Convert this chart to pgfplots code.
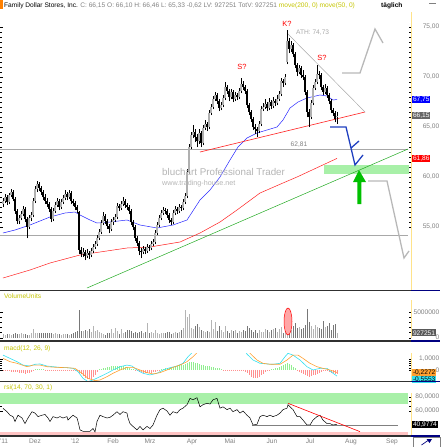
\documentclass[border=0pt]{standalone}
\usepackage{pgfplots}
\pgfplotsset{compat=1.18}
\usepackage{pgfplotstable}
\usepackage{fontspec}
\setmainfont{Liberation Sans}
\definecolor{olivey}{HTML}{C4C400}
\definecolor{lgray}{HTML}{A8A8A8}
\definecolor{tgray}{HTML}{808080}
\definecolor{ma50}{HTML}{2828FF}
\definecolor{ma200}{HTML}{FF2020}
\definecolor{tgreen}{HTML}{22AA22}
\definecolor{zoneg}{HTML}{A8F0A8}
\definecolor{zoner}{HTML}{FFC4C4}
\definecolor{axy}{HTML}{FFE38A}
\definecolor{sepc}{HTML}{303030}
\definecolor{navyc}{HTML}{000080}
\definecolor{projb}{HTML}{2040C0}
\definecolor{projg}{HTML}{B8B8B8}
\definecolor{macdc}{HTML}{33E0F0}
\definecolor{sigc}{HTML}{FFA030}
\definecolor{histr}{HTML}{FF9090}
\definecolor{histg}{HTML}{90F090}
\definecolor{volc}{HTML}{B4B4B4}
\definecolor{vold}{HTML}{787878}
\definecolor{upc}{HTML}{B0B0B0}
\definecolor{arrowg}{HTML}{00C000}
\definecolor{wmark}{HTML}{B4B4B4}
\newcommand\fs{\fontsize{6.6}{7.5}\selectfont}

\pgfplotstableread{
x o h l c v m
3 57.3 57.9 57.0 57.6 0.7 -0.05
5 57.6 58.3 57.4 58.0 0.6 -0.08
7 58.0 58.2 57.2 57.5 0.7 -0.10
9 57.5 58.4 57.3 58.2 0.7 -0.13
11 58.2 58.8 58.0 58.5 0.6 -0.15
13 58.5 58.7 57.6 57.8 0.8 -0.18
15 57.8 58.0 56.3 56.6 0.9 -0.20
17 56.6 56.8 55.3 55.6 0.8 -0.22
19 55.6 56.2 55.3 55.9 0.7 -0.25
21 55.9 56.6 55.7 56.3 1.0 -0.28
23 56.3 57.1 56.1 56.8 0.8 -0.30
25 56.8 57.0 55.5 55.8 0.7 -0.33
27 55.8 56.0 53.9 55.0 0.6 -0.30
29 55.0 56.2 54.8 55.9 0.6 -0.26
31 55.9 56.5 55.6 56.2 1.0 -0.20
33 56.2 57.9 56.0 57.6 1.6 -0.10
35 57.6 59.1 57.4 58.8 1.0 0.05
37 58.8 59.6 58.5 59.3 0.9 0.08
39 59.3 59.5 58.6 58.9 0.9 0.10
41 58.9 59.1 58.2 58.5 1.0 0.08
43 58.5 58.7 57.7 58.0 0.9 0.05
45 58.0 58.3 57.3 57.6 1.0 -0.03
47 57.6 57.9 57.0 57.3 0.9 -0.06
49 57.3 57.5 56.5 56.8 0.9 -0.08
51 56.8 57.0 55.5 55.8 1.0 -0.10
53 55.8 56.9 55.6 56.6 0.8 -0.12
55 56.6 57.5 56.4 57.2 1.0 -0.12
57 57.2 57.9 57.0 57.6 0.7 -0.10
59 57.6 57.8 56.7 57.0 0.7 -0.08
61 57.0 57.8 56.8 57.5 0.6 -0.10
63 57.5 58.2 57.3 57.9 0.8 -0.12
65 57.9 58.7 57.7 58.3 0.7 -0.10
67 58.3 58.5 57.7 58.0 0.7 -0.08
69 58.0 58.7 57.8 58.4 0.6 -0.06
71 58.4 58.6 57.3 57.6 0.8 -0.05
73 57.6 57.8 57.1 57.4 0.9 -0.04
75 57.4 57.6 56.7 57.0 1.2 -0.04
77 57.0 57.2 56.4 56.7 1.3 -0.10
79 56.5 56.6 52.3 52.7 5.3 -0.25
81 52.7 53.0 52.0 52.3 1.4 -0.40
83 52.3 52.9 52.0 52.5 1.3 -0.55
85 52.5 52.7 51.7 52.1 1.5 -0.70
87 52.1 52.8 51.9 52.4 1.3 -0.80
89 52.4 52.6 51.8 52.2 1.6 -0.85
91 52.2 52.9 52.0 52.6 1.2 -0.80
93 52.6 53.3 52.4 53.0 2.2 -0.65
95 53.0 53.6 52.8 53.3 1.3 -0.45
97 53.3 54.2 53.1 53.9 1.5 -0.20
99 53.9 54.8 53.7 54.5 1.2 0.05
101 54.5 55.7 54.3 55.4 1.0 0.12
103 55.4 56.5 55.2 56.1 0.8 0.18
105 56.1 56.3 55.3 55.6 0.6 0.22
107 55.6 55.8 54.8 55.1 0.9 0.26
109 55.1 55.3 54.4 54.8 1.0 0.30
111 54.8 55.8 54.6 55.5 1.7 0.33
113 55.5 56.0 55.2 55.7 0.9 0.35
115 55.7 56.3 55.5 56.0 1.8 0.36
117 56.0 57.4 55.8 57.1 1.4 0.36
119 57.1 57.3 56.6 56.9 0.8 0.35
121 56.9 57.6 56.7 57.3 1.6 0.34
123 57.3 58.0 57.1 57.6 1.0 0.32
125 57.6 57.8 56.9 57.2 1.2 0.30
127 57.2 57.4 56.7 57.0 1.5 0.25
129 57.0 57.2 56.3 56.6 1.5 0.20
131 56.6 56.8 55.2 55.5 1.3 0.12
133 55.5 55.7 54.7 55.0 1.0 0.05
135 55.0 55.2 53.6 53.9 1.2 -0.05
137 53.9 54.1 53.1 53.4 1.0 -0.10
139 53.4 53.6 52.2 52.6 1.1 -0.15
141 52.6 52.9 51.9 52.5 1.3 -0.20
143 52.5 53.1 52.3 52.8 1.0 -0.25
145 52.8 53.0 52.3 52.6 1.1 -0.28
147 52.6 53.3 52.4 53.0 2.8 -0.30
149 53.0 53.2 52.6 52.9 1.0 -0.28
151 52.9 53.6 52.7 53.3 1.2 -0.25
153 53.3 53.8 53.1 53.5 0.9 -0.22
155 53.5 54.7 53.3 54.4 1.5 -0.18
157 54.4 55.5 54.2 55.2 1.0 -0.12
159 55.2 56.2 55.0 55.9 0.8 -0.05
161 55.9 56.7 55.7 56.4 1.0 0.05
163 56.4 57.0 56.2 56.7 0.9 0.10
165 56.7 56.9 56.3 56.6 1.0 0.14
167 56.6 56.8 55.9 56.2 1.1 0.18
169 56.2 56.4 55.4 55.7 1.2 0.22
171 55.7 55.9 55.2 55.5 0.8 0.26
173 55.5 56.7 55.3 56.4 0.9 0.30
175 56.4 57.1 56.2 56.8 1.2 0.34
177 56.8 57.0 56.3 56.6 1.0 0.38
179 56.6 57.3 56.4 57.0 1.2 0.42
181 57.0 57.2 56.6 56.9 1.5 0.46
183 56.9 57.8 56.7 57.5 1.9 0.50
185 57.5 58.4 57.3 58.1 5.4 0.55
187 58.1 60.8 57.9 60.5 4.1 0.62
189 60.5 63.3 60.3 63.0 4.7 0.70
191 63.0 64.5 62.8 64.2 1.8 0.76
193 64.2 65.2 63.9 64.5 1.6 0.72
195 64.5 64.8 63.5 64.0 2.2 0.65
197 64.0 64.3 63.0 63.6 2.7 0.60
199 63.6 64.8 63.3 64.4 2.0 0.55
201 64.4 64.6 63.0 63.4 1.5 0.50
203 63.4 65.2 63.2 64.9 1.3 0.45
205 64.9 65.7 64.7 65.3 1.2 0.40
207 65.3 65.5 64.6 65.0 1.3 0.36
209 65.0 66.7 64.8 66.4 1.1 0.32
211 66.4 67.3 66.2 67.0 3.5 0.28
213 67.0 68.1 66.8 67.8 1.6 0.25
215 67.8 68.5 67.6 68.2 3.0 0.22
217 68.2 68.4 67.3 67.6 1.4 0.20
219 67.6 67.8 66.6 66.9 2.2 0.16
221 66.9 67.5 66.7 67.2 1.5 0.12
223 67.2 68.2 67.0 67.9 1.2 -0.02
225 67.9 69.5 67.7 69.0 2.2 -0.04
227 69.0 69.2 68.3 68.6 1.3 -0.05
229 68.6 68.8 67.6 68.0 1.0 -0.05
231 68.0 68.8 67.8 68.5 1.5 -0.06
233 68.5 68.7 67.5 67.8 1.3 -0.06
235 67.8 68.5 67.6 68.2 1.5 -0.07
237 68.2 68.4 67.7 68.0 1.0 -0.06
239 68.0 68.9 67.8 68.6 1.4 -0.05
241 68.6 69.9 68.4 69.3 1.2 -0.08
243 69.3 69.6 68.7 69.0 1.5 -0.12
245 69.0 69.2 68.3 68.6 1.3 -0.20
247 68.6 68.8 66.9 67.2 2.2 -0.30
249 67.2 67.4 66.2 66.5 1.8 -0.45
251 66.5 66.7 65.5 65.8 1.5 -0.60
253 65.8 66.0 64.7 65.0 1.2 -0.70
255 65.0 65.3 64.3 64.8 1.5 -0.76
257 64.8 65.0 64.0 64.6 1.0 -0.72
259 64.6 65.6 64.4 65.3 1.5 -0.60
261 65.3 67.1 65.1 66.8 1.2 -0.45
263 66.8 67.4 66.6 67.0 1.1 -0.32
265 67.0 67.8 66.8 67.3 1.6 -0.20
267 67.3 67.5 66.6 66.9 1.5 -0.12
269 66.9 67.9 66.7 67.5 1.2 -0.05
271 67.5 67.7 66.8 67.1 1.5 0.05
273 67.1 68.0 66.9 67.6 1.6 0.10
275 67.6 67.8 67.1 67.4 1.9 0.15
277 67.4 68.2 67.2 67.8 1.2 0.20
279 67.8 68.6 67.6 68.3 1.6 0.28
281 68.3 69.9 68.1 69.6 2.0 0.35
283 69.6 69.8 69.0 69.4 1.0 0.45
285 69.4 70.3 69.2 70.0 1.3 0.55
287 71.5 74.7 71.3 73.6 5.8 0.60
289 73.6 73.9 72.4 72.8 1.2 0.55
291 72.8 73.6 72.5 73.2 1.5 0.45
293 73.2 73.4 72.0 72.3 2.2 0.30
295 72.3 72.5 70.9 71.2 2.8 0.15
297 71.2 71.4 70.1 70.5 1.8 -0.05
299 70.5 71.2 70.3 70.9 2.0 -0.15
301 70.9 71.1 69.9 70.2 1.7 -0.25
303 70.2 70.7 69.7 70.0 1.9 -0.35
305 70.0 70.2 68.2 68.5 2.4 -0.45
307 68.5 68.7 66.0 66.5 5.6 -0.55
309 66.5 66.8 65.0 66.0 3.0 -0.60
311 66.0 67.7 65.8 67.4 2.2 -0.58
313 67.4 69.2 67.2 68.9 1.6 -0.50
315 68.9 69.8 68.7 69.5 2.5 -0.42
317 69.5 71.2 69.3 70.3 2.0 -0.35
319 70.3 70.6 69.8 70.2 1.8 -0.25
321 70.2 70.4 68.7 69.0 1.6 -0.15
323 69.0 69.2 68.2 68.5 3.2 -0.08
325 68.5 69.3 68.3 68.9 2.0 -0.05
327 68.9 69.1 67.9 68.2 2.2 -0.10
329 68.2 68.4 67.3 67.6 2.8 -0.20
331 67.6 67.8 66.4 66.7 1.5 -0.25
333 66.7 66.9 66.1 66.4 2.5 -0.30
335 66.4 66.6 65.5 65.8 2.7 -0.33
337 66.10 66.46 65.33 66.15 0.93 -0.33
}\candles

\pgfplotsset{
  panel/.style={scale only axis, width=411pt, xmin=0, xmax=411,
    axis line style={draw=none}, xtick=\empty, clip mode=individual,
    yticklabel pos=right, ytick pos=both, tick align=inside,
    major tick length=2.5pt, minor tick length=1.8pt,
    tick style={black, line width=0.4pt},
    yticklabel style={anchor=east, xshift=29pt, inner sep=0.5pt, font=\fs, text=tgray}},
  cbar/.style={only marks, mark=none, mark size=0pt, mark options={draw=none, fill=none},
    error bars/.cd, y dir=plus, y explicit, error mark=none,
    error bar style={line cap=butt, #1}}
}
\tikzset{boxlab/.style={anchor=west, inner sep=0.8pt, font=\fs, minimum height=7pt}}

\begin{document}
\begin{tikzpicture}
\useasboundingbox (0,0) rectangle (440pt,-447pt);
% ---------------- price panel
\begin{axis}[panel, at={(0pt,-12pt)}, anchor=north west, height=278pt,
  ymin=48.7, ymax=76.5, ytick={55,60,65,70,75},
  yticklabels={{55,00},{60,00},{65,00},{70,00},{75,00}}, minor y tick num=9]
\addplot[fill=zoneg, draw=none] coordinates {(324,60.3) (409,60.3) (409,61.2) (324,61.2)} -- cycle;
\addplot[lgray, line width=0.7pt] coordinates {(0,62.81) (408,62.81)};
\addplot[lgray, line width=0.7pt] coordinates {(0,54.2) (408,54.2)};
\addplot[tgreen, line width=0.5pt] coordinates {(87,48.9) (408,62.8)};
\addplot[ma200, line width=0.5pt] coordinates {(3,49.9) (30,50.7) (50,51.4) (80,52.2) (100,52.5) (127,52.9) (150,53.0) (180,53.5) (200,54.4) (220,55.5) (237,56.7) (260,58.4) (283,59.4) (297,60.0) (337,61.86)};
\addplot[ma50, line width=0.5pt] coordinates {(3,54.4) (15,54.7) (30,55.2) (50,56.0) (65,56.4) (75,56.5) (80,56.2) (90,55.7) (97,55.4) (110,55.5) (127,55.7) (140,55.2) (157,54.9) (173,55.2) (187,55.7) (200,57.7) (210,58.7) (220,60.0) (230,61.7) (238,63.0) (247,63.9) (257,64.4) (267,64.7) (277,65.0) (283,65.7) (290,66.9) (298,67.5) (307,67.9) (320,68.2) (327,68.1) (333,67.7) (337,67.75)};
\addplot[ma200, line width=0.6pt] coordinates {(200,62.5) (365,66.5)};
\addplot[lgray, line width=0.5pt] coordinates {(287,74.4) (365,66.5)};
\addplot[projg, line width=1.3pt] coordinates {(342,70.4) (360,70.4) (375,74.8) (383,73.4)};
\addplot[projg, line width=1.3pt] coordinates {(368,59.6) (387,59.6) (404,51.9) (409,52.6)};
\addplot[projb, line width=1.3pt] coordinates {(330,65.0) (346,65.0) (351,62.9) (355,61.2) (363,62.2)};
\addplot[projb, line width=1.3pt] coordinates {(351,62.9) (359,63.6)};
\addplot[fill=arrowg, draw=none] coordinates {(359,60.7) (366,59.5) (361.3,59.5) (361.3,57.3) (357.3,57.3) (357.3,59.5) (353,59.5)} -- cycle;
% candles: wicks
\addplot[cbar={black, line width=0.4pt}]
  table[x=x, y=l, y error expr=\thisrow{h}-\thisrow{l}] {\candles};
% up candles
\addplot[restrict expr to domain={\thisrow{c}-\thisrow{o}}{0:100}, cbar={upc, line width=1.1pt}]
  table[x=x, y=o, y error expr=\thisrow{c}-\thisrow{o}] {\candles};
% down candles
\addplot[restrict expr to domain={\thisrow{c}-\thisrow{o}}{-100:-0.001}, cbar={black, line width=1.1pt}]
  table[x=x, y=c, y error expr=\thisrow{o}-\thisrow{c}] {\candles};
% annotations
\node[text=red, font=\fontsize{7.5}{8}\selectfont] at (axis cs:287,75.3) {K?};
\node[text=red, font=\fontsize{7.5}{8}\selectfont] at (axis cs:242,71.0) {S?};
\node[text=red, font=\fontsize{7.5}{8}\selectfont] at (axis cs:322,71.9) {S?};
\node[text=lgray, anchor=west, font=\fs, inner sep=0pt] at (axis cs:296,74.4) {ATH: 74,73};
\node[text=tgray, font=\fs, inner sep=0pt] at (axis cs:299,63.25) {62,81};
\node[text=wmark, anchor=west, font=\fontsize{9.8}{11}\selectfont, inner sep=0pt] at (axis cs:162,60.5) {bluchart Professional Trader};
\node[text=wmark, anchor=west, font=\fontsize{7.2}{8}\selectfont, inner sep=0pt] at (axis cs:162,59.3) {www.trading-house.net};
\node[boxlab, fill=blue, text=white] at (axis cs:412,67.75) {67,75};
\node[boxlab, fill=black!60, text=white] at (axis cs:412,66.15) {66,15};
\node[boxlab, fill=red, text=white] at (axis cs:412,61.86) {61,86};
\end{axis}
% ---------------- volume panel
\begin{axis}[panel, at={(0pt,-300pt)}, anchor=north west, height=37.7pt,
  ymin=0, ymax=7.33, ytick={0,5}, yticklabels={0,5000000}, minor y tick num=4]
\addplot[ycomb, volc, line width=0.9pt, restrict expr to domain={\thisrow{c}-\thisrow{o}}{0:100}] table[x=x, y=v] {\candles};
\addplot[ycomb, vold, line width=0.9pt, restrict expr to domain={\thisrow{c}-\thisrow{o}}{-100:-0.001}] table[x=x, y=v] {\candles};
\draw[red, fill=red!35, line width=0.5pt] (axis cs:288,3.15) ellipse [x radius=4pt, y radius=13.5pt];
\node[boxlab, fill=black!65, text=white] at (axis cs:412,0.93) {927251};
\end{axis}
% ---------------- MACD panel
\begin{axis}[panel, at={(0pt,-353pt)}, anchor=north west, height=28.5pt,
  ymin=-1.05, ymax=1.55, ytick={0,1}, yticklabels={0,{1,0000}}, minor y tick num=4]
\addplot[ycomb, histr, line width=0.9pt, restrict expr to domain={\thisrow{m}}{-10:0}] table[x=x, y=m] {\candles};
\addplot[ycomb, histg, line width=0.9pt, restrict expr to domain={\thisrow{m}}{0:10}] table[x=x, y=m] {\candles};
\addplot[macdc, line width=0.6pt] coordinates {(3,1.36) (10,1.06) (17,0.76) (23,0.45) (30,0.36) (35,0.52) (40,0.55) (47,0.36) (53,0.30) (60,0.24) (67,0.21) (73,0.15) (78,-0.15) (83,-0.76) (88,-1.06) (93,-0.91) (100,-0.61) (107,-0.30) (113,0) (120,0.30) (127,0.45) (132,0.36) (137,0) (143,-0.30) (150,-0.45) (157,-0.30) (163,0) (170,0.21) (177,0.36) (183,0.61) (188,1.21) (192,1.58) (195,2.1) (215,3.0) (235,2.6) (244,2.0) (247,1.45) (253,0.91) (260,0.61) (267,0.55) (273,0.52) (280,0.61) (285,1.21) (288,1.52) (293,1.36) (300,0.91) (307,0.30) (313,0) (320,0.15) (327,0.15) (333,-0.30) (337,-0.555)};
\addplot[sigc, line width=0.6pt] coordinates {(3,1.06) (10,0.76) (17,0.61) (27,0.30) (33,0.45) (40,0.45) (47,0.30) (57,0.24) (67,0.21) (75,0.15) (82,-0.30) (88,-0.76) (95,-0.97) (100,-0.91) (107,-0.61) (113,-0.30) (120,0) (127,0.24) (133,0.24) (140,0) (147,-0.24) (153,-0.36) (160,-0.24) (167,0) (173,0.24) (180,0.45) (187,0.76) (193,1.21) (198,1.67) (203,2.1) (220,3.0) (240,2.6) (245,2.1) (250,1.52) (257,0.91) (263,0.61) (270,0.52) (280,0.52) (287,0.91) (293,1.36) (298,1.36) (303,1.06) (310,0.61) (317,0.30) (323,0.15) (330,0) (337,-0.227)};
\node[boxlab, fill=macdc, text=black] at (axis cs:412,-0.88) {-0,5553};
\node[boxlab, fill=sigc, text=black] at (axis cs:412,-0.2272) {-0,2272};
\end{axis}
% ---------------- RSI panel
\begin{axis}[panel, at={(0pt,-393pt)}, anchor=north west, height=42pt,
  ymin=25.7, ymax=85.7, ytick={60,80}, yticklabels={{60,0000},{80,0000}}, minor y tick num=2,
  xtick={4,35,75,113,150,192,230,272,310,351,392},
  xticklabels={{'11},Dez,{'12},Feb,Mrz,Apr,Mai,Jun,Jul,Aug,Sep},
  every major x tick/.append style={draw=none},
  xticklabel style={font=\fs, text=tgray, anchor=north, inner sep=0pt, yshift=-4pt}]
\addplot[fill=zoneg, draw=none] coordinates {(0,70) (408,70) (408,100) (0,100)} -- cycle;
\addplot[fill=zoner, draw=none] coordinates {(0,0) (408,0) (408,30) (0,30)} -- cycle;
\addplot[tgray, line width=0.5pt] coordinates {(252,40) (398,40)};
\addplot[black, line width=0.5pt] coordinates {(3,63.8) (7,59) (10,54) (13,52) (15,45) (18,54) (22,50) (25,42) (28,50) (32,59) (35,57) (38,52) (42,54) (45,55) (48,50) (50,45) (53,52) (57,50) (60,52) (63,50) (67,52) (68,47) (70,50) (73,54) (77,50) (78,45) (80,33) (83,31) (87,31) (90,31) (93,35) (95,30) (97,45) (100,54) (103,52) (107,50) (110,51) (113,54) (117,59) (120,55) (123,59) (127,57) (128,50) (130,42) (133,38) (137,33) (140,38) (143,33) (147,38) (150,35) (153,40) (157,54) (160,62) (163,64) (167,60) (170,54) (173,59) (177,57) (180,62) (183,64) (187,69) (190,78) (193,76) (197,79) (200,66) (203,69) (207,71) (210,70) (213,76) (217,78) (220,64) (223,66) (227,62) (230,64) (233,59) (237,62) (240,57) (243,60) (247,54) (250,50) (253,40) (257,41) (260,52) (263,54) (267,52) (270,54) (273,52) (277,54) (280,57) (283,62) (287,64) (288,69) (290,66) (293,62) (297,52) (300,52) (303,47) (307,40) (310,40) (313,47) (317,52) (320,54) (323,47) (327,42) (330,42) (333,40) (337,40.98)};
\addplot[red, line width=0.6pt] coordinates {(288,71) (360,30.5)};
\node[boxlab, fill=black, text=white] at (axis cs:412,40.98) {40,9774};
\end{axis}
% ---------------- decorations
\fill[orange] (0,0) rectangle (2.5pt,-9pt);
\node[anchor=west, inner sep=0pt, font=\fs] at (4pt,-5.5pt) {Family Dollar Stores, Inc. \textcolor{tgray}{C: 66,15 O: 66,10 H: 66,46 L: 65,33 -0,62 LV: 927251 TotV: 927251} \textcolor{olivey}{move(200, 0) move(50, 0)}};
\node[anchor=west, inner sep=0pt, font=\fs\bfseries] at (381pt,-5.5pt) {täglich};
\draw[tgray, line width=0.6pt] (429pt,-3pt) -- (436pt,-3pt);
\node[anchor=west, inner sep=0pt, font=\fs, text=olivey] at (4pt,-296pt) {VolumeUnits};
\node[anchor=west, inner sep=0pt, font=\fs, text=olivey] at (4pt,-349pt) {macd(12, 26, 9)};
\node[anchor=west, inner sep=0pt, font=\fs, text=olivey] at (4pt,-388pt) {rsi(14, 70, 30, 1)};
\foreach \a/\b in {12/290, 300/338, 353/381, 393/435}
  \draw[axy, line width=0.8pt] (411.7pt,-\a pt) -- (411.7pt,-\b pt);
\foreach \y in {290.5, 341, 381.7, 435.8} {
  \draw[sepc, line width=1.5pt] (0,-\y pt) -- (411pt,-\y pt);
  \draw[navyc, line width=1.5pt] (411pt,-\y pt) -- (440pt,-\y pt);
}
\draw[tgray, fill=white, line width=0.4pt] (413pt,-437.5pt) rectangle (439.8pt,-447pt);
\draw[navyc, line width=0.7pt] (421.5pt,-445pt) -- (428pt,-440.5pt);
\fill[navyc] (426.5pt,-439pt) -- (432pt,-439pt) -- (429.5pt,-443pt) -- cycle;
\end{tikzpicture}
\end{document}
